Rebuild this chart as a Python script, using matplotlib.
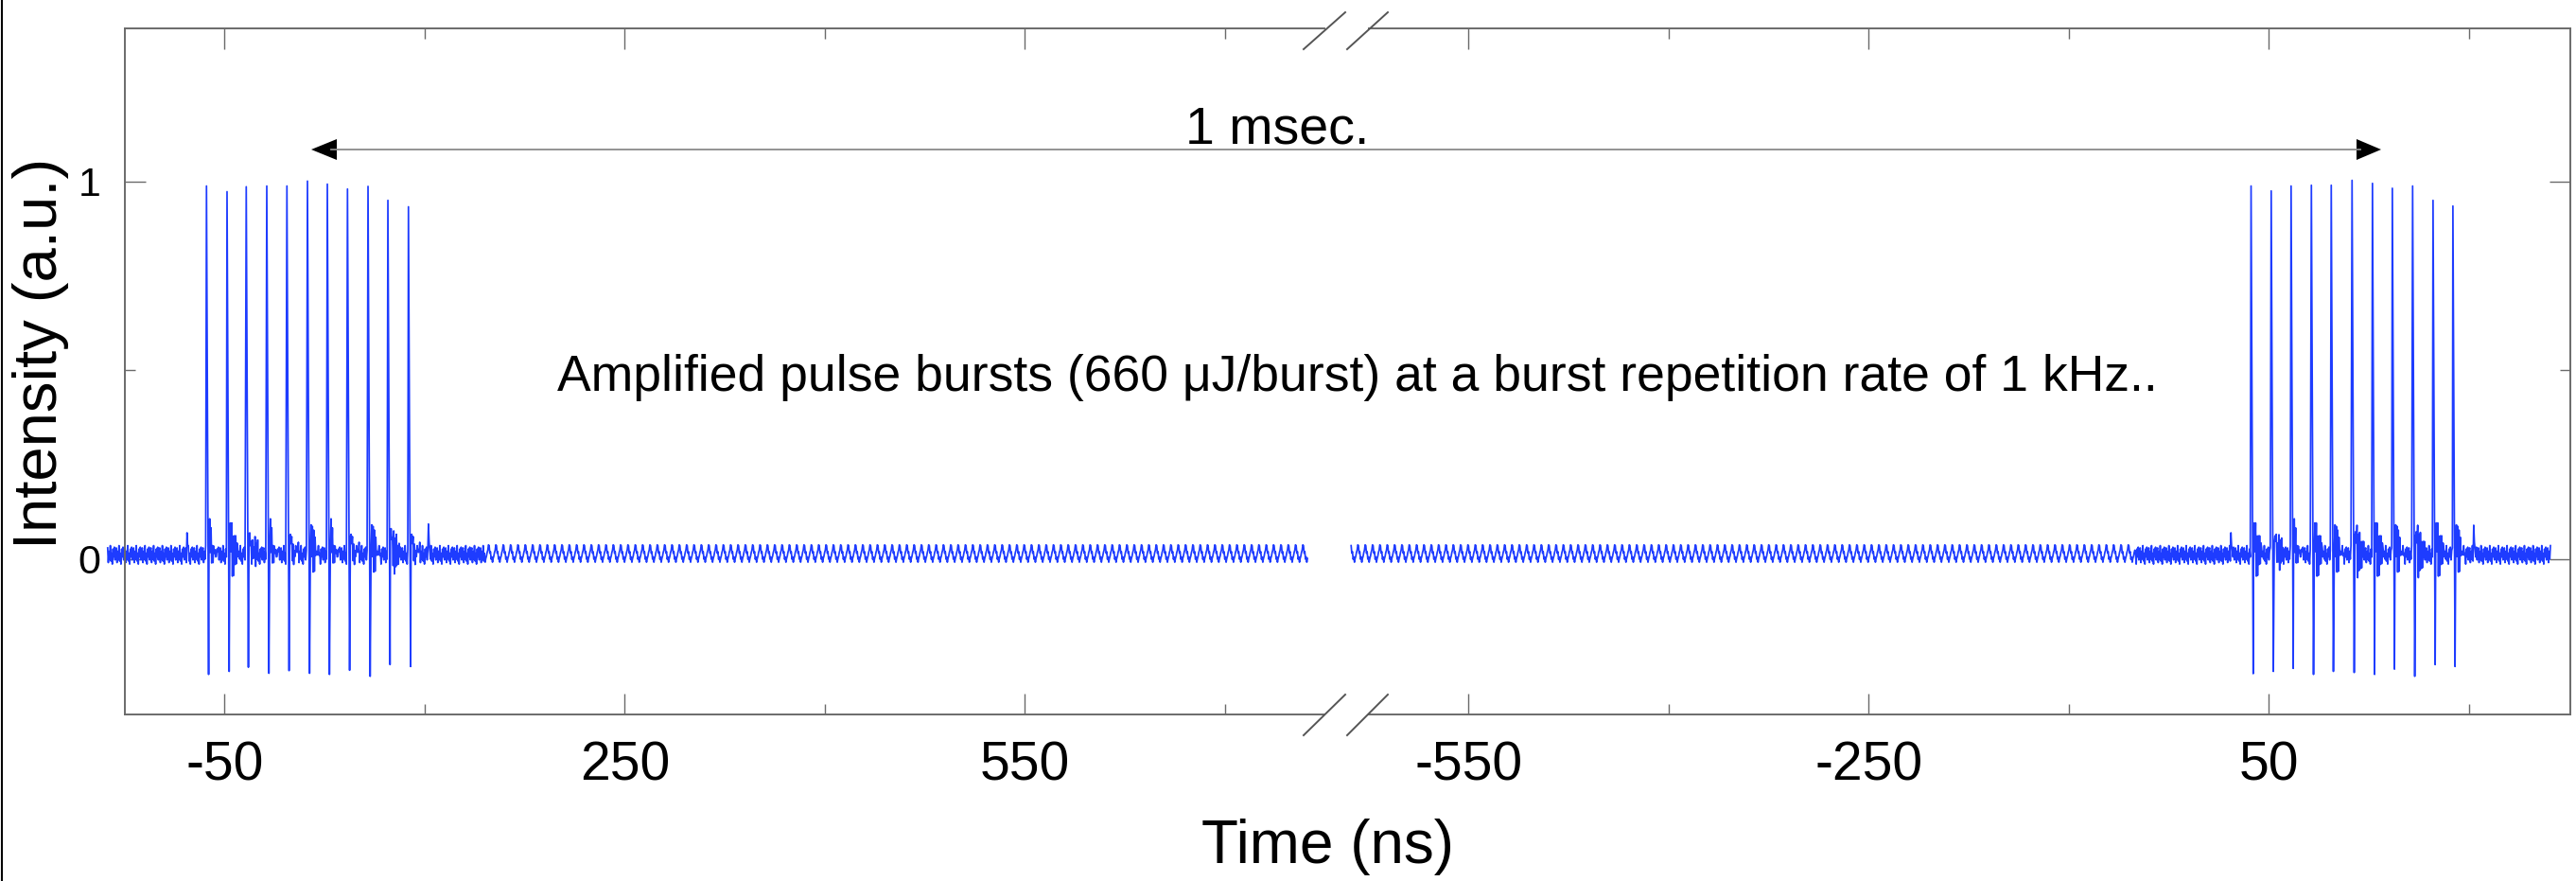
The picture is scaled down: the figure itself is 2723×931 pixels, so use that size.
import numpy as np
import matplotlib.pyplot as plt
from matplotlib.lines import Line2D
from matplotlib.patches import Polygon

plt.rcParams['font.family'] = ['Liberation Sans', 'DejaVu Sans']
plt.rcParams['axes.unicode_minus'] = False

# ---- values ----
# left burst (time axis before the break)
left_pulse_t = [-63.6, -48.2, -33.8, -18.4, -3.3, 12.1, 27.0, 42.1, 57.5, 72.4, 87.8]
left_peak = [0.988, 0.973, 0.986, 0.988, 0.988, 1.001, 0.993, 0.980, 0.987, 0.950, 0.933]
left_trough = [-0.305, -0.297, -0.286, -0.302, -0.295, -0.302, -0.305, -0.294, -0.310, -0.279, -0.284]
left_bump_t = [-78.0, 103.0]
left_bump_h = [0.07, 0.093]
left_span = (-137.7, 762.0)
left_noisy = [(-138.0, 145.0)]

# right burst (time axis after the break)
right_pulse_t = [36.6, 51.7, 66.6, 81.8, 96.7, 112.3, 127.6, 142.5, 157.7, 173.0, 187.9]
right_peak = [0.988, 0.975, 0.988, 0.990, 0.990, 1.003, 0.995, 0.982, 0.988, 0.950, 0.935]
right_trough = [-0.303, -0.297, -0.289, -0.305, -0.297, -0.300, -0.305, -0.291, -0.310, -0.279, -0.284]
right_bump_t = [21.7, 203.3]
right_bump_h = [0.07, 0.09]
right_span = (-638.0, 261.4)
right_noisy = [(-50.0, 262.0)]

# baseline texture: one ripple period (5.5 ns, 0.5 ns steps), noise pattern, ringing after a pulse
baseline = 0.012
ripple = [0.024, 0.004, 0.008, -0.012, -0.006, -0.020, -0.010, -0.004, 0.006, 0.012, 0.026]
noise = [0.018, -0.021, 0.009, -0.012, 0.024, -0.017, 0.004, -0.025, 0.015, -0.006, 0.020, -0.014, 0.011]
ring = [0.03, 0.075, 0.02, 0.06, -0.04, 0.045, -0.03, 0.035, -0.02, 0.03, -0.01, 0.02, 0.0, 0.015]

left_ticks = [-50, 100, 250, 400, 550, 700]
left_labels = [-50, 250, 550]
right_ticks = [-550, -400, -250, -100, 50, 200]
right_labels = [-550, -250, 50]


def build_trace(span, pulse_t, peaks, troughs, bump_t, bump_h, noisy):
    t = np.arange(span[0], span[1], 0.5)
    i = np.arange(t.size)
    y = baseline + np.array(ripple)[i % len(ripple)]
    for a, b in noisy:
        m = (t >= a) & (t <= b)
        y[m] = baseline + np.array(noise)[i[m] % len(noise)]
    for tb, hb in zip(bump_t, bump_h):
        j = int(np.argmin(np.abs(t - tb)))
        y[j] = hb
        y[j + 1] = 0.5 * hb
    keep = np.ones(t.size, dtype=bool)
    extra_t, extra_y = [], []
    for t0, pk, tr in zip(pulse_t, peaks, troughs):
        keep &= ~((t > t0 - 0.4) & (t < t0 + 1.9))
        after = np.where(t >= t0 + 1.9)[0][:len(ring)]
        y[after] += np.array(ring)[:after.size]
        extra_t += [t0, t0 + 1.6]
        extra_y += [pk, tr]
    tt = np.concatenate([t[keep], extra_t])
    yy = np.concatenate([y[keep], extra_y])
    order = np.argsort(tt)
    return tt[order], yy[order]


W, H = 2723, 931
fig = plt.figure(figsize=(W / 100, H / 100), dpi=100)

def fx(px):
    return px / W

def fy(py):
    return 1 - py / H

ax_bottom, ax_top = 755, 29.7
axL = fig.add_axes([fx(131.7), fy(ax_bottom), (1400 - 131.7) / W, (ax_bottom - ax_top) / H])
axR = fig.add_axes([fx(1424), fy(ax_bottom), (2716.7 - 1424) / W, (ax_bottom - ax_top) / H])

blue = '#1e3cff'
spine_c = '#6a6a6a'
tl, ts = 15.8, 7.9

tL, yL = build_trace(left_span, left_pulse_t, left_peak, left_trough, left_bump_t, left_bump_h, left_noisy)
tR, yR = build_trace(right_span, right_pulse_t, right_peak, right_trough, right_bump_t, right_bump_h, right_noisy)
axL.plot(tL, yL, color=blue, lw=1.25, clip_on=False)
axR.plot(tR, yR, color=blue, lw=1.25, clip_on=False)

axL.set_xlim(-125, 774.5)
axR.set_xlim(-641, 275.7)
for ax in (axL, axR):
    ax.set_ylim(-0.411, 1.406)
    ax.set_yticks([0, 1])
    ax.set_yticks([0.5], minor=True)
    for s in ax.spines.values():
        s.set_color(spine_c)
        s.set_linewidth(1.4)
    ax.tick_params(which='both', direction='in', color=spine_c, width=1.0,
                   top=True, bottom=True, labelsize=41, pad=20)
    ax.tick_params(which='major', length=tl)
    ax.tick_params(which='minor', length=ts)
    ax.tick_params(axis='y', labelsize=31, pad=18)

axL.spines['right'].set_visible(False)
axL.tick_params(axis='y', which='both', left=True, right=False)
axL.set_xticks(left_labels)
axL.set_xticks([v for v in left_ticks if v not in left_labels], minor=True)
axL.set_yticklabels(['0', '1'])

axR.spines['left'].set_visible(False)
axR.spines['top'].set_bounds(-625, 275.7)
axR.spines['bottom'].set_bounds(-625, 275.7)
axR.tick_params(axis='y', which='both', left=False, right=True, labelleft=False)
axR.set_xticks(right_labels)
axR.set_xticks([v for v in right_ticks if v not in right_labels], minor=True)

# break marks
for y0, y1 in [(52, 13), (777, 734)]:
    for x0, x1 in [(1378, 1422), (1424, 1467)]:
        fig.add_artist(Line2D([fx(x0), fx(x1)], [fy(y0), fy(y1)], transform=fig.transFigure,
                              color='#555555', lw=1.4))

# 1 msec arrow
ay = 158
fig.add_artist(Line2D([fx(350), fx(2495)], [fy(ay), fy(ay)], transform=fig.transFigure,
                      color='#8a8a8a', lw=1.3))
for tip, base in [(329, 356), (2517, 2491)]:
    fig.add_artist(Polygon([[fx(tip), fy(ay)], [fx(base), fy(ay - 11)], [fx(base), fy(ay + 11)]],
                           closed=True, transform=fig.transFigure, color='black', lw=0))

fig.text(fx(1447), fy(151), '1 msec.', ha='right', va='baseline', fontsize=40)
fig.text(fx(589), fy(413), 'Amplified pulse bursts (660 μJ/burst) at a burst repetition rate of 1 kHz..',
         ha='left', va='baseline', fontsize=38.5)

fig.text(fx(43), fy(373), 'Intensity (a.u.)', rotation=90, ha='center', va='center', fontsize=47)
fig.text(fx(1404), fy(895), 'Time (ns)', ha='center', va='center', fontsize=46)

# thin border at the very left edge of the picture
fig.add_artist(Line2D([fx(1.5), fx(1.5)], [0, 1], transform=fig.transFigure, color='black', lw=1.5))

fig.savefig('out.png', dpi=100)
